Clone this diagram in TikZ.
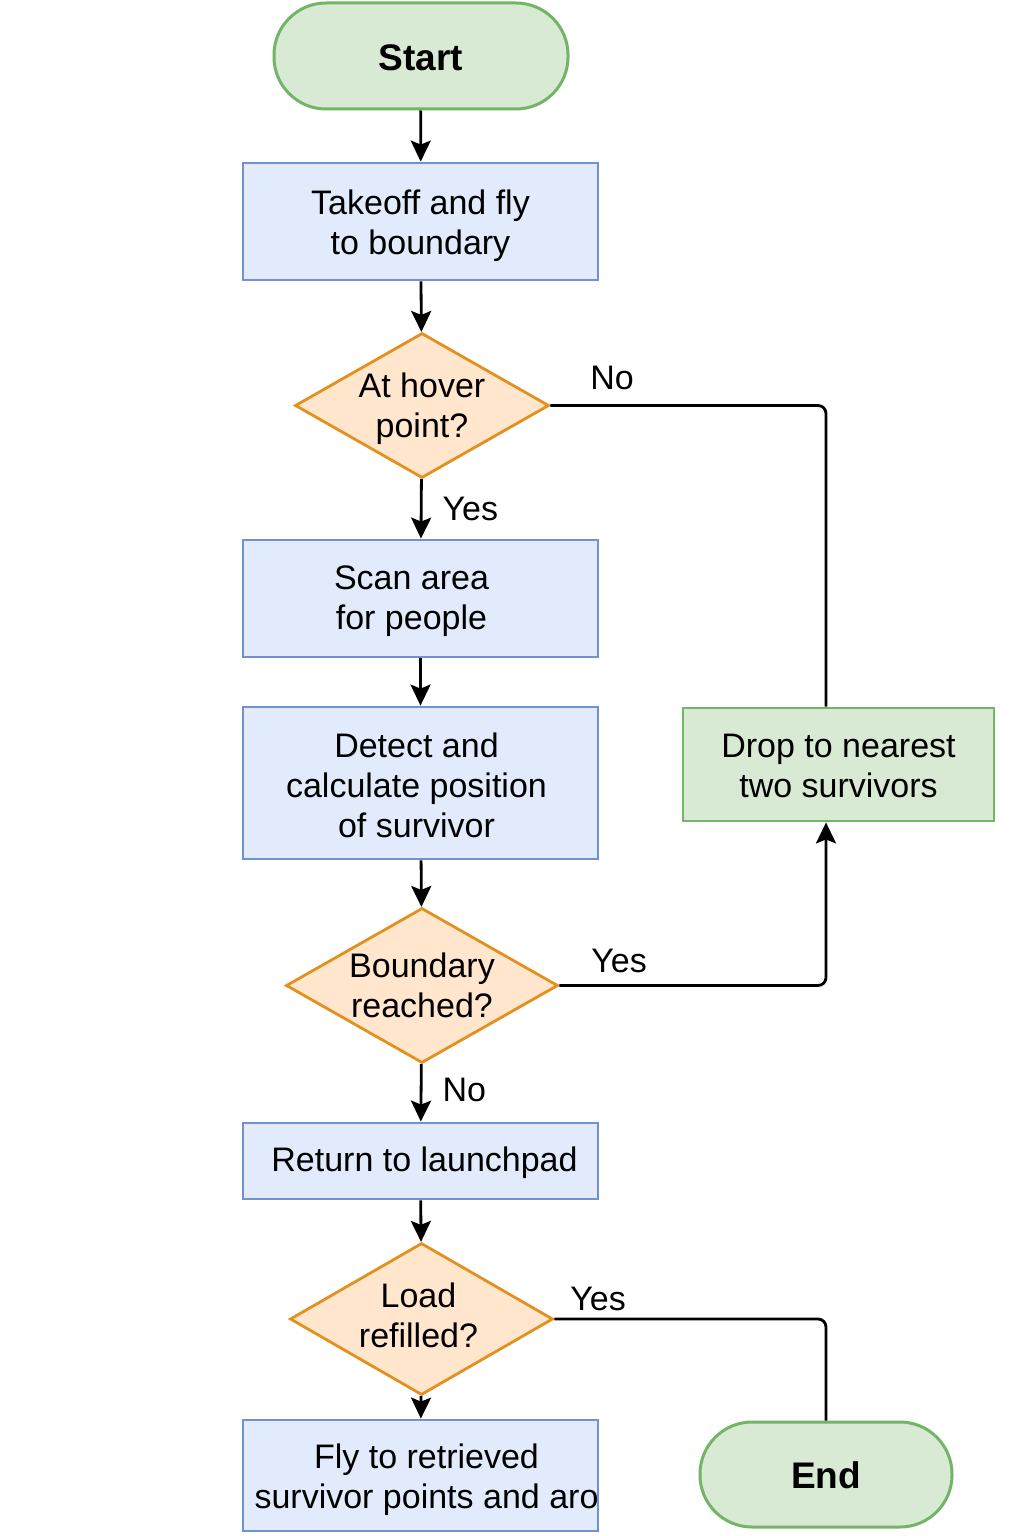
\documentclass[tikz,border=0pt]{standalone}
\usepackage{fontspec}
\setmainfont{Liberation Sans}
\usetikzlibrary{shapes.geometric,arrows.meta}
\definecolor{bfill}{HTML}{E1EBFC}
\definecolor{bdraw}{HTML}{7390CF}
\definecolor{ofill}{HTML}{FFE6CC}
\definecolor{odraw}{HTML}{E3901E}
\definecolor{gfill}{HTML}{D8EAD4}
\definecolor{gdraw}{HTML}{74B466}
\begin{document}
\begin{tikzpicture}[x=1pt,y=-1pt,
  every node/.style={font=\fontsize{34pt}{40pt}\selectfont},
  every label/.style={align=center,inner sep=0pt},
  proc/.style={rectangle,draw=bdraw,fill=bfill,line width=2.8pt,minimum width=355pt,inner sep=0pt},
  term/.style={rectangle,rounded corners=52pt,draw=gdraw,fill=gfill,line width=3pt,minimum height=106pt,inner sep=0pt,font=\fontsize{37pt}{40pt}\selectfont\bfseries},
  gbox/.style={rectangle,draw=gdraw,fill=gfill,line width=2.8pt,inner sep=0pt},
  dia/.style={diamond,draw=odraw,fill=ofill,line width=2.8pt,inner sep=0pt},
  conn/.style={line width=2.8pt,rounded corners=8pt},
  arr/.style={conn,-{Stealth[length=21pt,width=20pt,inset=4pt]}},
  lbl/.style={inner sep=0pt}
]
\useasboundingbox (0,0) rectangle (1024,1536);
\fill[white] (0,0) rectangle (1024,1536);

\node[term,minimum width=294pt,label={[yshift=-2pt,font=\fontsize{37pt}{40pt}\selectfont\bfseries]center:Start}] (start) at (421,56) {};
\node[proc,minimum height=117pt,label={[yshift=-4pt]center:Takeoff and fly\\to boundary}] (takeoff) at (420.5,221.5) {};
\node[dia,minimum width=254pt,minimum height=145pt,label={[yshift=-3pt]center:At hover\\point?}] (d1) at (422,405.5) {};
\node[proc,minimum height=117pt,label={[xshift=-9pt,yshift=-3pt]center:Scan area\\for people}] (scan) at (420.5,598.5) {};
\node[proc,minimum height=152pt,label={[xshift=-4pt,yshift=-2pt]center:Detect and\\calculate position\\of survivor}] (detect) at (420.5,783) {};
\node[dia,minimum width=272pt,minimum height=155pt,label={[yshift=0pt]center:Boundary\\reached?}] (d2) at (422,985.5) {};
\node[proc,minimum height=76pt,label={[xshift=4pt,yshift=-2pt]center:Return to launchpad}] (ret) at (420.5,1161) {};
\node[dia,minimum width=263pt,minimum height=152pt,label={[xshift=-3pt,yshift=4pt]center:Load\\refilled?}] (d3) at (421.5,1319) {};
\node[proc,minimum height=111pt,label={[xshift=6pt,yshift=-4pt]center:Fly to retrieved\\survivor points and aro}] (fly) at (420.5,1475.5) {};
\node[gbox,minimum width=311pt,minimum height=113pt,label={[yshift=-1pt]center:Drop to nearest\\two survivors}] (drop) at (838.5,764.5) {};
\node[term,minimum width=252pt,minimum height=105pt,label={[yshift=-1pt,font=\fontsize{37pt}{40pt}\selectfont\bfseries]center:End}] (end) at (826,1474.5) {};

\draw[arr] (start) -- (takeoff);
\draw[arr] (takeoff) -- (d1);
\draw[arr] (d1) -- node[lbl,right=20pt,pos=0.5] (yes1) {Yes} (scan);
\draw[arr] (scan) -- (detect);
\draw[arr] (detect) -- (d2);
\draw[arr] (d2) -- node[lbl,right=20pt,pos=0.45] (no2) {No} (ret);
\draw[arr] (ret) -- (d3);
\draw[arr] (d3) -- (fly);

\draw[conn] (d1.east) -| ([xshift=-12.5pt]drop.north);
\node[lbl] (no1) at (612,378) {No};
\draw[arr] (d2.east) -| ([xshift=-12.5pt]drop.south);
\node[lbl] (yes2) at (619,961) {Yes};
\draw[conn] (d3.east) -| (end.north);
\node[lbl] (yes3) at (598,1299) {Yes};
\end{tikzpicture}
\end{document}
